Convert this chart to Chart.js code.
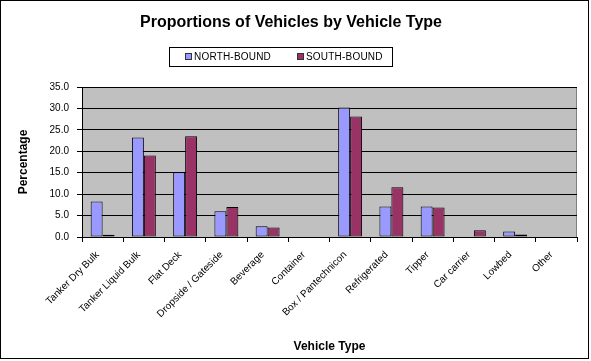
<!DOCTYPE html>
<html>
<head>
<meta charset="utf-8">
<script src="https://cdn.jsdelivr.net/npm/chart.js@4/dist/chart.umd.min.js"></script>
<style>
  body { margin: 0; background: #fff; }
  #wrap { width: 587px; height: 357px; border: 1px solid #000; }
</style>
</head>
<body>
<div id="wrap"><canvas id="myChart" width="587" height="357"></canvas></div>
<script>
// Datos
var categories = ['Tanker Dry Bulk', 'Tanker Liquid Bulk', 'Flat Deck', 'Dropside / Gateside',
  'Beverage', 'Container', 'Box / Pantechnicon', 'Refrigerated', 'Tipper', 'Car carrier',
  'Lowbed', 'Other'];
var northBound = [8.3, 23.2, 15.1, 6.0, 2.5, 0, 30.2, 7.1, 7.1, 0, 1.3, 0];
var southBound = [0.5, 19.0, 23.5, 7.0, 2.2, 0, 28.1, 11.6, 6.9, 1.6, 0.6, 0];
var yTicks = [0, 5, 10, 15, 20, 25, 30, 35];

// fondo gris del area de trazado
var plotBg = {
  id: 'plotBg',
  beforeDraw: function(chart) {
    var a = chart.chartArea, c = chart.ctx;
    c.save();
    c.fillStyle = '#C0C0C0';
    c.fillRect(a.left, a.top, a.right - a.left, a.bottom - a.top);
    c.strokeStyle = '#808080';
    c.lineWidth = 1;
    c.strokeRect(a.left + 0.5, a.top + 0.5, a.right - a.left - 1, a.bottom - a.top);
    c.restore();
  }
};

// leyenda con recuadro, estilo Excel
var boxLegend = {
  id: 'boxLegend',
  afterDraw: function(chart) {
    var c = chart.ctx;
    var ds = chart.data.datasets;
    var bx = 168, by = 46, bw = 223, bh = 19;
    c.save();
    c.strokeStyle = '#000';
    c.lineWidth = 1;
    c.strokeRect(bx + 0.5, by + 0.5, bw, bh);
    c.font = '10px Arial, "Liberation Sans"';
    c.textBaseline = 'middle';
    c.textAlign = 'left';
    if ('letterSpacing' in c) c.letterSpacing = '0.2px';
    var x = bx + 16;
    var cy = by + 10;
    for (var i = 0; i < ds.length; i++) {
      c.fillStyle = ds[i].backgroundColor;
      c.fillRect(x, cy - 4, 7, 7);
      c.strokeStyle = '#333';
      c.strokeRect(x + 0.5, cy - 3.5, 6, 6);
      c.fillStyle = '#000';
      c.fillText(ds[i].label, x + 9, cy + 0.5);
      x += 112;
    }
    c.restore();
  }
};

var ctx = document.getElementById('myChart').getContext('2d');
var myChart = new Chart(ctx, {
  type: 'bar',
  data: {
    labels: categories,
    datasets: [
      { label: 'NORTH-BOUND', data: northBound, backgroundColor: '#9999FF', borderColor: '#000', borderWidth: 1, borderSkipped: false },
      { label: 'SOUTH-BOUND', data: southBound, backgroundColor: '#993366', borderColor: '#000', borderWidth: 1, borderSkipped: false }
    ]
  },
  options: {
    responsive: false,
    animation: false,
    devicePixelRatio: 1,
    layout: { padding: { left: 4, right: 11, top: 0, bottom: 3 } },
    datasets: { bar: { barPercentage: 1.0, categoryPercentage: 0.58 } },
    plugins: {
      title: {
        display: true,
        text: 'Proportions of Vehicles by Vehicle Type',
        color: '#000',
        font: { family: 'Arial, "Liberation Sans"', size: 16, weight: 'bold' },
        padding: { top: 12, bottom: 54.8 }
      },
      legend: { display: false },
      tooltip: { enabled: false }
    },
    scales: {
      x: {
        afterFit: function(s) { s.height = 118; },
        grid: { display: true, drawOnChartArea: false, color: '#000', tickLength: 5, offset: true },
        border: { display: true, color: '#000' },
        ticks: {
          color: '#000', minRotation: 45, maxRotation: 45, autoSkip: false, padding: 7, labelOffset: -5,
          font: { family: 'Arial, "Liberation Sans"', size: 10 }
        },
        title: {
          display: true, text: 'Vehicle Type', color: '#000',
          font: { family: 'Arial, "Liberation Sans"', size: 12, weight: 'bold' },
          padding: { top: 0, bottom: 1 }
        }
      },
      y: {
        min: 0, max: 35,
        afterFit: function(s) { s.width = 77; },
        afterBuildTicks: function(s) { s.ticks = yTicks.map(function(v) { return { value: v }; }); },
        grid: { color: '#000', tickLength: 5 },
        border: { display: true, color: '#000' },
        ticks: {
          color: '#000', padding: 8,
          font: { family: 'Arial, "Liberation Sans"', size: 10 },
          callback: function(v) { return v.toFixed(1); }
        },
        title: {
          display: true, text: 'Percentage', color: '#000',
          font: { family: 'Arial, "Liberation Sans"', size: 12, weight: 'bold' },
          padding: { top: 11, bottom: 0 }
        }
      }
    }
  },
  plugins: [plotBg, boxLegend]
});
</script>
</body>
</html>
